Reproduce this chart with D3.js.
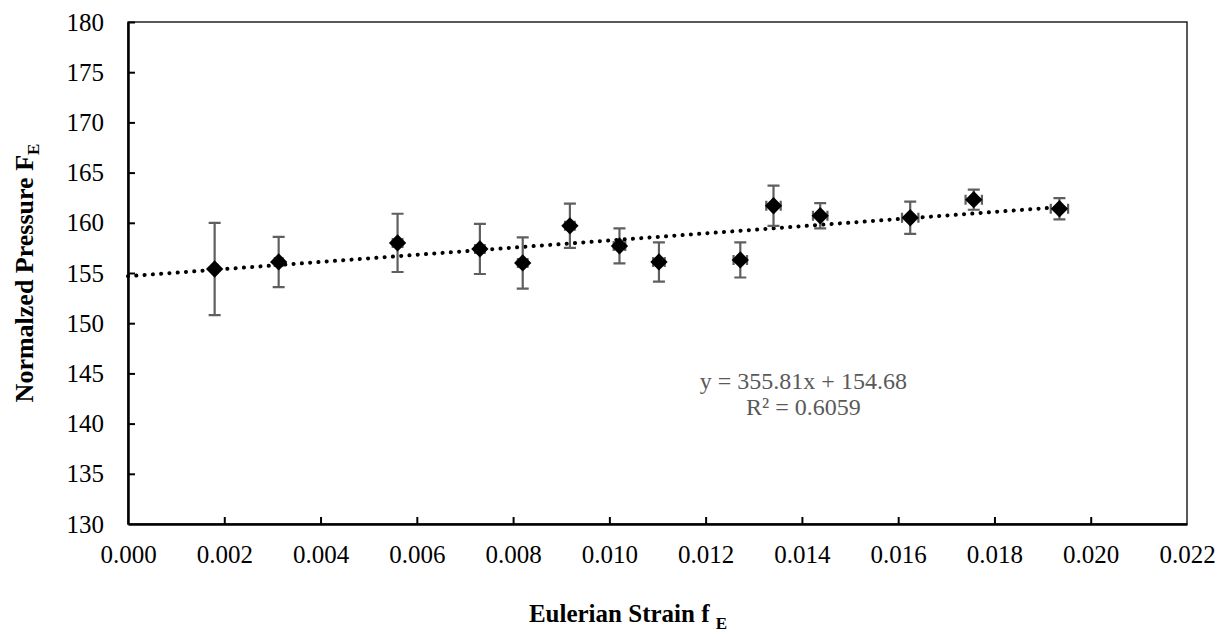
<!DOCTYPE html>
<html>
<head>
<meta charset="utf-8">
<script src="https://cdn.jsdelivr.net/npm/d3@7"></script>
<style>
body { margin: 0; background: #fff; }
svg text { font-family: "Liberation Serif", Tinos, "Times New Roman", Times, "DejaVu Serif", "Noto Serif", serif; }
</style>
</head>
<body>
<svg id="chart" width="1222" height="635"></svg>
<script>
// data
var strain = [0.0018, 0.00313, 0.0056, 0.00731, 0.0082, 0.00918, 0.01021, 0.01103, 0.01272, 0.01341, 0.01438, 0.01625, 0.01757, 0.01935];
var pressure = [155.4, 156.1, 158.0, 157.4, 156.0, 159.7, 157.7, 156.1, 156.3, 161.7, 160.7, 160.5, 162.3, 161.4];
var pressureErr = [4.6, 2.5, 2.9, 2.5, 2.55, 2.2, 1.75, 1.95, 1.75, 2.0, 1.25, 1.6, 1.0, 1.05];
var strainErr = [0.00005, 0.00008, 0.0001, 0.0001, 0.0001, 0.0001, 0.00012, 0.00012, 0.00014, 0.00015, 0.00015, 0.00017, 0.00017, 0.00018];
var xTicks = [0, 0.002, 0.004, 0.006, 0.008, 0.010, 0.012, 0.014, 0.016, 0.018, 0.020, 0.022];
var yTicks = [130, 135, 140, 145, 150, 155, 160, 165, 170, 175, 180];
var trend = {slope: 355.81, intercept: 154.68, r2: 0.6059};

var serif = "'Liberation Serif', Tinos, 'Times New Roman', Times, 'DejaVu Serif', 'Noto Serif', serif";
var svg = d3.select("#chart").attr("font-family", serif);
var margin = {top: 22, left: 128, bottom: 111, right: 35};
var width = 1222 - margin.left - margin.right;
var height = 635 - margin.top - margin.bottom;

var x = d3.scaleLinear().domain([0, 0.022]).range([0, width]);
var y = d3.scaleLinear().domain([130, 180]).range([height, 0]);

var g = svg.append("g").attr("transform", "translate(" + margin.left + "," + margin.top + ")");

var data = strain.map(function(s, i){
	return {x: s, y: pressure[i], ey: pressureErr[i], ex: strainErr[i]};
});

// plot border (top/right thin)
g.append("rect").attr("x", 0).attr("y", 0).attr("width", width).attr("height", height)
	.attr("fill", "none").attr("stroke", "#000").attr("stroke-width", 1.3);

// axes
var xAxis = g.append("g").attr("transform", "translate(0," + height + ")")
	.call(d3.axisBottom(x).tickValues(xTicks).tickSizeInner(-7).tickSizeOuter(0).tickPadding(21).tickFormat(d3.format(".3f")));
var yAxis = g.append("g")
	.call(d3.axisLeft(y).tickValues(yTicks).tickSizeInner(-7).tickSizeOuter(0).tickPadding(24).tickFormat(d3.format("d")));

[xAxis, yAxis].forEach(function(a){
	a.attr("font-family", serif);
	a.select(".domain").attr("stroke", "#000").attr("stroke-width", 2.5);
	a.selectAll(".tick line").attr("stroke", "#000").attr("stroke-width", 2);
	a.selectAll(".tick text").attr("fill", "#000").style("font-size", "25px").style("font-family", serif);
});
xAxis.selectAll(".tick").filter(function(d){ return d === 0 || d === 0.022; }).select("line").remove();
yAxis.selectAll(".tick").filter(function(d){ return d === 130; }).select("line").remove();

// trendline
var tx0 = 0, tx1 = d3.max(strain);
g.append("line")
	.attr("x1", x(tx0)).attr("y1", y(trend.intercept + trend.slope * tx0))
	.attr("x2", x(tx1)).attr("y2", y(trend.intercept + trend.slope * tx1))
	.attr("stroke", "#000").attr("stroke-width", 4)
	.attr("stroke-linecap", "round").attr("stroke-dasharray", "0.1 8.2");

// error bars
var eb = g.append("g").attr("stroke", "#5f5f5f").attr("stroke-width", 2.2).attr("fill", "none");
eb.selectAll(".ev").data(data).enter().append("path")
	.attr("d", function(d){
		var cx = x(d.x), t = y(d.y + d.ey), b = y(d.y - d.ey);
		return "M" + cx + "," + t + "V" + b + "M" + (cx - 6) + "," + t + "H" + (cx + 6) + "M" + (cx - 6) + "," + b + "H" + (cx + 6);
	});
eb.selectAll(".eh").data(data).enter().append("path")
	.attr("d", function(d){
		var cy = y(d.y), l = x(d.x - d.ex), r = x(d.x + d.ex);
		return "M" + l + "," + cy + "H" + r + "M" + l + "," + (cy - 5) + "V" + (cy + 5) + "M" + r + "," + (cy - 5) + "V" + (cy + 5);
	});

// markers
g.selectAll(".pt").data(data).enter().append("path")
	.attr("d", d3.symbol().type(d3.symbolSquare).size(150))
	.attr("transform", function(d){ return "translate(" + x(d.x) + "," + y(d.y) + ") rotate(45)"; })
	.attr("fill", "#000");

// equation label
var eq = g.append("text").attr("text-anchor", "middle").attr("fill", "#595959").style("font-size", "24px");
eq.append("tspan").attr("x", x(0.01403)).attr("y", y(145) + 16).text("y = " + trend.slope + "x + " + trend.intercept);
eq.append("tspan").attr("x", x(0.01403)).attr("y", y(145) + 42).text("R\u00b2 = " + trend.r2);

// axis titles
var xt = svg.append("text").attr("x", 628).attr("y", 622).attr("text-anchor", "middle")
	.style("font-size", "25px").style("font-weight", "bold");
xt.append("tspan").text("Eulerian Strain f ");
xt.append("tspan").attr("dy", 7).style("font-size", "17px").text("E");

var yt = svg.append("text").attr("transform", "translate(33," + (margin.top + height / 2) + ") rotate(-90)")
	.attr("text-anchor", "middle").style("font-size", "26px").style("font-weight", "bold");
yt.append("tspan").text("Normalzed Pressure F");
yt.append("tspan").attr("dy", 6).style("font-size", "17px").text("E");
</script>
</body>
</html>
